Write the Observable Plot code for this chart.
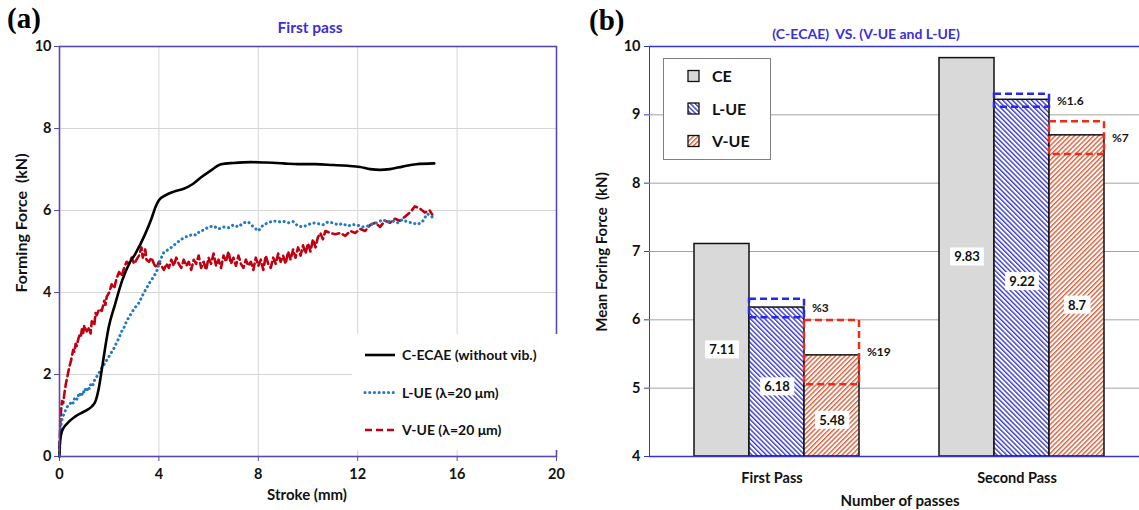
<!DOCTYPE html>
<html><head><meta charset="utf-8">
<script src="https://cdn.jsdelivr.net/npm/d3@7"></script>
<script src="https://cdn.jsdelivr.net/npm/@observablehq/plot@0.6"></script>
<style>
body{margin:0;background:#fff;font-family:Lato,sans-serif;}
#wrap{position:relative;width:1139px;height:510px;overflow:hidden;background:#fff;}
.abs{position:absolute;}
.panel{font-family:"Liberation Serif",serif;font-weight:bold;font-size:29px;line-height:1;}
.ttl{color:#3b2fd9;font-weight:bold;font-size:14px;transform:translate(-50%,-50%);white-space:nowrap;}
.axl{font-weight:bold;font-size:15px;white-space:nowrap;transform:translate(-50%,-50%);color:#111;}
.rot{transform:translate(-50%,-50%) rotate(-90deg);}
#rightPlot text, #leftPlot text{fill:#111;}
</style></head><body><div id="wrap"></div>
<script>
// ---------- Panel (a): forming force vs stroke, first pass ----------
const ceCurve = [[0,0],[0.02,0.35],[0.1,0.62],[0.3,0.8],[0.64,0.98],[1.0,1.1],[1.3,1.22],[1.45,1.35],[1.57,1.63],[1.71,2.15],[1.85,2.7],[1.98,3.15],[2.23,3.7],[2.52,4.29],[2.8,4.7],[3.05,4.94],[3.45,5.43],[3.7,5.8],[3.86,6.08],[4.0,6.25],[4.26,6.37],[4.6,6.46],[5.0,6.53],[5.35,6.64],[5.7,6.81],[6.1,6.98],[6.5,7.13],[7.0,7.16],[7.7,7.18],[8.3,7.17],[9.0,7.15],[9.6,7.13],[10.3,7.13],[11.0,7.11],[11.6,7.09],[12.1,7.06],[12.5,7.01],[12.9,6.99],[13.3,7.01],[13.8,7.07],[14.35,7.13],[15.08,7.15]];
const luCurve = [[0,0.1],[0.03,0.5],[0.06,0.75],[0.1,0.9],[0.15,1.0],[0.2,1.05],[0.25,1.15],[0.3,1.2],[0.35,1.25],[0.4,1.28],[0.45,1.3],[0.5,1.35],[0.55,1.3],[0.6,1.4],[0.65,1.45],[0.7,1.4],[0.75,1.5],[0.8,1.45],[0.85,1.55],[0.9,1.5],[0.95,1.6],[1.0,1.55],[1.05,1.65],[1.1,1.6],[1.15,1.7],[1.2,1.65],[1.25,1.75],[1.3,1.8],[1.35,1.75],[1.4,1.85],[1.45,1.9],[1.5,1.95],[1.55,2.0],[1.6,2.05],[1.65,2.1],[1.7,2.17],[1.75,2.2],[1.8,2.25],[1.85,2.3],[1.9,2.35],[1.95,2.4],[2.0,2.45],[2.1,2.55],[2.2,2.65],[2.3,2.78],[2.4,2.9],[2.5,3.05],[2.6,3.15],[2.7,3.3],[2.8,3.4],[2.9,3.5],[3.0,3.6],[3.1,3.68],[3.2,3.75],[3.3,3.88],[3.4,4.0],[3.5,4.1],[3.6,4.22],[3.7,4.3],[3.8,4.4],[3.9,4.5],[4.0,4.68],[4.1,4.85],[4.2,4.98],[4.3,5.02],[4.4,5.05],[4.5,5.1],[4.6,5.15],[4.7,5.2],[4.8,5.25],[4.9,5.3],[5.0,5.32],[5.1,5.36],[5.2,5.38],[5.35,5.42],[5.5,5.4],[5.65,5.5],[5.8,5.52],[6.0,5.6],[6.2,5.62],[6.4,5.55],[6.6,5.6],[6.8,5.58],[7.0,5.65],[7.2,5.6],[7.4,5.7],[7.6,5.72],[7.8,5.6],[8.0,5.5],[8.2,5.65],[8.4,5.7],[8.6,5.75],[8.8,5.72],[9.0,5.74],[9.2,5.7],[9.4,5.73],[9.6,5.62],[9.8,5.6],[10.0,5.65],[10.2,5.7],[10.4,5.68],[10.6,5.65],[10.8,5.72],[11.0,5.7],[11.2,5.65],[11.4,5.68],[11.6,5.62],[11.8,5.66],[12.0,5.64],[12.2,5.6],[12.4,5.62],[12.6,5.68],[12.8,5.7],[13.0,5.78],[13.2,5.72],[13.4,5.75],[13.6,5.7],[13.8,5.78],[14.0,5.72],[14.2,5.7],[14.4,5.66],[14.6,5.72],[14.8,5.92],[15.0,5.84]];
const vuCurve = [[0,0.2],[0.03,0.8],[0.06,1.1],[0.1,1.35],[0.15,1.3],[0.2,1.55],[0.25,1.75],[0.3,1.9],[0.35,2.05],[0.4,2.2],[0.45,2.3],[0.5,2.45],[0.55,2.6],[0.6,2.55],[0.65,2.75],[0.7,2.7],[0.75,2.85],[0.8,2.95],[0.85,2.9],[0.9,3.1],[0.95,3.0],[1.0,3.2],[1.05,3.1],[1.1,3.05],[1.2,3.15],[1.25,3.0],[1.3,3.3],[1.4,3.2],[1.45,3.5],[1.5,3.45],[1.6,3.6],[1.7,3.55],[1.8,3.8],[1.85,3.7],[1.9,3.9],[2.0,4.0],[2.1,4.2],[2.2,4.1],[2.3,4.35],[2.4,4.5],[2.5,4.4],[2.6,4.6],[2.7,4.75],[2.8,4.7],[2.9,4.85],[3.0,4.7],[3.1,4.8],[3.2,4.9],[3.3,5.1],[3.35,4.85],[3.45,5.05],[3.5,4.8],[3.6,4.75],[3.7,4.85],[3.8,4.7],[3.9,4.6],[4.0,4.75],[4.1,4.65],[4.2,4.55],[4.3,4.7],[4.4,4.6],[4.5,4.8],[4.6,4.65],[4.7,4.85],[4.8,4.7],[4.9,4.6],[5.0,4.8],[5.1,4.65],[5.2,4.75],[5.3,4.55],[5.4,4.8],[5.5,4.7],[5.6,4.9],[5.7,4.6],[5.8,4.75],[5.9,4.55],[6.0,4.85],[6.1,4.7],[6.2,4.95],[6.3,4.65],[6.4,4.8],[6.5,4.6],[6.6,4.9],[6.7,4.75],[6.8,5.0],[6.9,4.7],[7.0,4.85],[7.1,4.65],[7.2,4.9],[7.3,4.7],[7.4,4.6],[7.5,4.8],[7.6,4.65],[7.7,4.75],[7.8,4.55],[7.9,4.85],[8.0,4.65],[8.1,4.8],[8.2,4.55],[8.3,4.9],[8.4,4.7],[8.5,4.6],[8.6,4.85],[8.7,4.7],[8.8,4.95],[8.9,4.75],[9.0,4.9],[9.1,4.7],[9.2,5.0],[9.3,4.8],[9.4,5.05],[9.5,4.85],[9.6,5.1],[9.7,4.9],[9.8,5.15],[9.9,4.95],[10.0,5.2],[10.1,5.0],[10.2,5.3],[10.3,5.1],[10.4,5.35],[10.5,5.45],[10.6,5.3],[10.7,5.5],[10.9,5.45],[11.1,5.42],[11.3,5.45],[11.5,5.38],[11.7,5.5],[11.9,5.45],[12.1,5.55],[12.3,5.5],[12.5,5.65],[12.7,5.7],[12.9,5.6],[13.1,5.75],[13.3,5.7],[13.5,5.8],[13.7,5.75],[13.9,5.85],[14.1,5.95],[14.3,6.1],[14.5,6.05],[14.7,5.95],[14.9,6.0],[15.0,5.9]];
const strokeTicks = [0, 4, 8, 12, 16, 20];
const forceTicks = [0, 2, 4, 6, 8, 10];
const legendA = ["C-ECAE (without vib.)", "L-UE (λ=20 μm)", "V-UE (λ=20 μm)"];

// ---------- Panel (b): mean forming force ----------
const passes = ["First Pass", "Second Pass"];
const methods = ["CE", "L-UE", "V-UE"];
const firstPassForce = [7.11, 6.18, 5.48];
const secondPassForce = [9.83, 9.22, 8.7];
const firstPassRange = [null, [6.03, 6.30], [5.05, 5.99]];
const secondPassRange = [null, [9.11, 9.30], [8.42, 8.90]];
const firstPassPct = [null, "%3", "%19"];
const secondPassPct = [null, "%1.6", "%7"];
const meanTicks = [4, 5, 6, 7, 8, 9, 10];

const wrap = document.getElementById("wrap");
function addDiv(cls, left, top, html) {
  const d = document.createElement("div");
  d.className = "abs " + cls;
  d.style.left = left + "px"; d.style.top = top + "px";
  d.innerHTML = html; wrap.appendChild(d); return d;
}

// ----- Left plot -----
const pt = ([s, f]) => ({s, f});
const left = Plot.plot({
  width: 575, height: 510,
  marginLeft: 59, marginRight: 19, marginTop: 46, marginBottom: 54,
  style: {fontFamily: "Lato, sans-serif", fontSize: "14.5px", fontWeight: "bold", color: "#5848b0", background: "transparent"},
  x: {domain: [0, 20], ticks: strokeTicks, tickSize: 5, tickPadding: 7, label: null},
  y: {domain: [0, 10], ticks: forceTicks, tickSize: 5, tickPadding: 3, label: null},
  marks: [
    Plot.gridX(strokeTicks.slice(1, -1), {stroke: "#d6d6d6", strokeOpacity: 1, strokeWidth: 1}),
    Plot.gridY(forceTicks.slice(1, -1), {stroke: "#d6d6d6", strokeOpacity: 1, strokeWidth: 1}),
    Plot.line(vuCurve.map(pt), {x: "s", y: "f", stroke: "#c00010", strokeWidth: 2.6, strokeDasharray: "7,4"}),
    Plot.line(luCurve.map(pt), {x: "s", y: "f", stroke: "#1f78c8", strokeWidth: 3, strokeDasharray: "0.1,4.6", strokeLinecap: "round"}),
    Plot.line(ceCurve.map(pt), {x: "s", y: "f", stroke: "#000", strokeWidth: 2.6, curve: "monotone-x"}),
    Plot.frame({stroke: "#5848b0", strokeWidth: 1.6})
  ]
});
left.id = "leftPlot";
left.style.position = "absolute"; left.style.left = "0px"; left.style.top = "0px";
wrap.appendChild(left);

// ----- Right plot -----
const bars = [];
passes.forEach((p, i) => {
  const vals = [firstPassForce, secondPassForce][i];
  const rng = [firstPassRange, secondPassRange][i];
  const pct = [firstPassPct, secondPassPct][i];
  methods.forEach((m, j) => {
    const r = rng[j];
    bars.push({pass: p, method: m, value: vals[j], lo: r ? r[0] : null, hi: r ? r[1] : null,
      pct: pct[j], labelY: (meanTicks[0] + Math.min(vals[j], r ? r[0] : vals[j])) / 2});
  });
});

const right = Plot.plot({
  width: 569, height: 510,
  marginLeft: 79, marginRight: 0, marginTop: 46, marginBottom: 54,
  style: {fontFamily: "Lato, sans-serif", fontSize: "14.5px", fontWeight: "bold", color: "#3535c8", background: "transparent"},
  facet: {data: bars, x: "pass"},
  fx: {domain: passes, padding: 0, label: null, axis: "bottom", tickSize: 0, tickPadding: 16},
  x: {domain: methods, axis: null, paddingInner: 0, paddingOuter: 0.72, align: 0.56},
  y: {domain: [4, 10], ticks: meanTicks, tickFormat: d => String(d), tickSize: 5, tickPadding: 4, label: null, line: true},
  color: {domain: methods, range: ["#d9d9d9", "url(#hatchL)", "url(#hatchV)"]},
  marks: [
    Plot.ruleY(meanTicks.slice(1, -1), {stroke: "#a3a3a3", strokeWidth: 1}),
    Plot.ruleY([10], {stroke: "#3535c8", strokeWidth: 1.6}),
    Plot.barY(bars, {x: "method", y1: meanTicks[0], y2: "value", fill: "method", stroke: "#111", strokeWidth: 1.5}),
    Plot.barY(bars, {filter: d => d.method === "L-UE", x: "method", y1: "lo", y2: "hi", fill: "none", stroke: "#2626ee", strokeWidth: 2.5, strokeDasharray: "7,4"}),
    Plot.barY(bars, {filter: d => d.method === "V-UE", x: "method", y1: "lo", y2: "hi", fill: "none", stroke: "#f02a18", strokeWidth: 2.5, strokeDasharray: "7,4"}),
    Plot.ruleY([4], {stroke: "#3535c8", strokeWidth: 1.6}),
    Plot.text(bars, {x: "method", y: "labelY", text: d => String(d.value), fontSize: 13, fontWeight: "bold", ariaDescription: "value-labels"}),
    Plot.text(bars, {filter: d => d.pct, x: "method", y: d => (d.lo + d.hi) / 2, text: "pct", textAnchor: "start", dx: 35, fontSize: 12, fontWeight: "bold"})
  ]
});
right.id = "rightPlot";
right.style.position = "absolute"; right.style.left = "570px"; right.style.top = "0px";
wrap.appendChild(right);

function hatchDefs(svgSel, idL, idV) {
  const defs = svgSel.insert("defs", ":first-child");
  [[idL, "#2a2acc", -45], [idV, "#d9532b", 45]].forEach(([id, col, ang]) => {
    const p = defs.append("pattern").attr("id", id).attr("patternUnits", "userSpaceOnUse")
      .attr("width", 3.4).attr("height", 3.4).attr("patternTransform", `rotate(${ang})`);
    p.append("rect").attr("width", 3.4).attr("height", 3.4).attr("fill", "#fff");
    p.append("line").attr("x1", 0.7).attr("y1", 0).attr("x2", 0.7).attr("y2", 3.4).attr("stroke", col).attr("stroke-width", 1.3);
  });
}
hatchDefs(d3.select(right), "hatchL", "hatchV");

// white boxes behind value labels
d3.select(right).selectAll('g[aria-description="value-labels"] text').each(function() {
  const b = this.getBBox();
  const r = document.createElementNS("http://www.w3.org/2000/svg", "rect");
  r.setAttribute("x", b.x - 4); r.setAttribute("y", b.y - 1);
  r.setAttribute("width", b.width + 8); r.setAttribute("height", b.height + 2);
  r.setAttribute("fill", "#fff");
  const t = this.getAttribute("transform"); if (t) r.setAttribute("transform", t);
  this.parentNode.insertBefore(r, this);
});

// ----- texts -----
addDiv("panel", 7, 4, "(a)");
addDiv("panel", 589, 6, "(b)");
const t1 = addDiv("ttl", 310, 27, "First pass"); t1.style.fontSize = "15.5px";
addDiv("ttl", 866, 33, "(C-ECAE)&nbsp; VS. (V-UE and L-UE)");
const yl = addDiv("axl rot", 20, 223, "Forming Force&nbsp; (kN)"); yl.style.fontSize = "16px";
addDiv("axl", 307, 494, "Stroke (mm)");
addDiv("axl rot", 601, 252, "Mean Foring Force&nbsp; (kN)");
addDiv("axl", 900, 500, "Number of passes");

// ----- legend (a) -----
const la = addDiv("", 352, 334, "");
la.style.width = "206px"; la.style.height = "116px"; la.style.background = "#fff";
const laSvg = d3.select(la).append("svg").attr("width", 206).attr("height", 116);
const laStyles = [{stroke: "#000", w: 2.6, dash: null, cap: "butt"}, {stroke: "#1f78c8", w: 3, dash: "0.1,4.6", cap: "round"}, {stroke: "#c00010", w: 2.6, dash: "7,4", cap: "butt"}];
legendA.forEach((t, i) => {
  const y = 21 + i * 37.5;
  laSvg.append("line").attr("x1", 13).attr("x2", 43).attr("y1", y).attr("y2", y)
    .attr("stroke", laStyles[i].stroke).attr("stroke-width", laStyles[i].w)
    .attr("stroke-dasharray", laStyles[i].dash).attr("stroke-linecap", laStyles[i].cap);
  laSvg.append("text").attr("x", 50).attr("y", y + 5).text(t)
    .attr("font-family", "Lato, sans-serif").attr("font-weight", "bold").attr("font-size", 14).attr("fill", "#111");
});

// ----- legend (b) -----
const lb = addDiv("", 663, 58, "");
lb.style.width = "106px"; lb.style.height = "100px"; lb.style.background = "#fff"; lb.style.border = "1px solid #808080";
const lbSvg = d3.select(lb).append("svg").attr("width", 106).attr("height", 100);
hatchDefs(lbSvg, "lgL", "lgV");
const lbFill = ["#d9d9d9", "url(#lgL)", "url(#lgV)"];
methods.forEach((m, i) => {
  const y = 17 + i * 32.5;
  lbSvg.append("rect").attr("x", 24).attr("y", y - 5.5).attr("width", 11).attr("height", 11)
    .attr("fill", lbFill[i]).attr("stroke", "#111").attr("stroke-width", 1.3);
  lbSvg.append("text").attr("x", 48).attr("y", y + 6).text(m)
    .attr("font-family", "Lato, sans-serif").attr("font-weight", "bold").attr("font-size", 16).attr("fill", "#111");
});
</script>
</body></html>
